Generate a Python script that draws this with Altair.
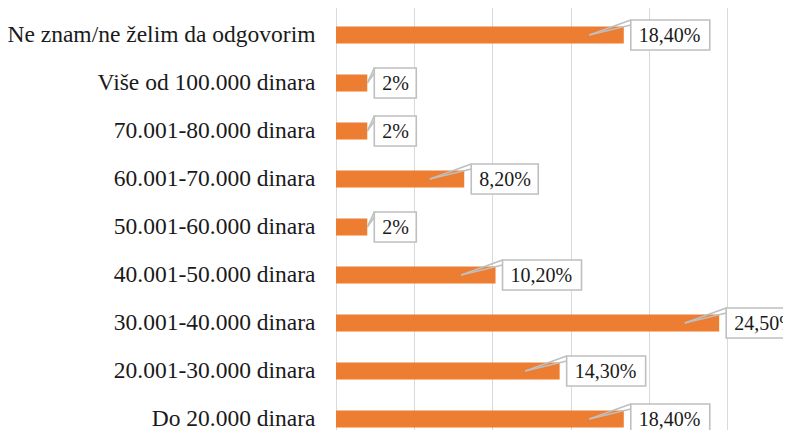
import altair as alt
import pandas as pd

categories = [
    "Ne znam/ne želim da odgovorim",
    "Više od 100.000 dinara",
    "70.001-80.000 dinara",
    "60.001-70.000 dinara",
    "50.001-60.000 dinara",
    "40.001-50.000 dinara",
    "30.001-40.000 dinara",
    "20.001-30.000 dinara",
    "Do 20.000 dinara",
]
values = [18.4, 2, 2, 8.2, 2, 10.2, 24.5, 14.3, 18.4]
labels = ["18,40%", "2%", "2%", "8,20%", "2%", "10,20%", "24,50%", "14,30%", "18,40%"]

df = pd.DataFrame({"cat": categories, "v": values, "label": labels})
df["tip"] = [v - 2.2 if v > 5 else v for v in values]
df["n"] = [len(s) for s in labels]

FONT = "Liberation Serif"
ORANGE = "#ED7D31"
GRAY = "#BFBFBF"

y_enc = alt.Y(
    "cat:N",
    sort=categories,
    scale=alt.Scale(range=[0, 432], paddingInner=0, paddingOuter=0),
    axis=alt.Axis(
        title=None, ticks=False, domain=False, labelPadding=21,
        labelFont=FONT, labelFontSize=23.5, labelColor="#1A1A1A", labelLimit=400,
    ),
)
x_scale = alt.Scale(domain=[0, 25], nice=False)
x_axis = alt.Axis(
    title=None, labels=False, ticks=False, domain=False,
    values=[0, 5, 10, 15, 20, 25], grid=True, gridColor="#D9D9D9", gridWidth=1,
)

base = alt.Chart(df)

bars = base.mark_bar(size=17, color=ORANGE).encode(
    x=alt.X("v:Q", scale=x_scale, axis=x_axis),
    y=y_enc,
)

leaders = []
for off in (-15, -10):
    leaders.append(
        base.mark_rule(color=GRAY, strokeWidth=1.6, x2Offset=7, y2Offset=off).encode(
            x=alt.X("tip:Q", scale=x_scale),
            x2=alt.X2("v:Q"),
            y=alt.Y("cat:N", sort=categories, bandPosition=0.5),
            y2=alt.Y2("cat:N", bandPosition=0.5),
        )
    )

box_layers = []
for n, w in [(2, 42), (5, 67), (6, 79)]:
    box_layers.append(
        base.transform_filter(alt.datum.n == n)
        .mark_bar(size=30, fill="white", stroke=GRAY, strokeWidth=1.6,
                  xOffset=7, x2Offset=7 + w)
        .encode(
            x=alt.X("v:Q", scale=x_scale),
            x2=alt.X2("v:Q"),
            y=alt.Y("cat:N", sort=categories),
        )
    )

text = base.mark_text(
    align="left", baseline="middle", dx=15, dy=1,
    font=FONT, fontSize=20, color="#1A1A1A",
).encode(
    x=alt.X("v:Q", scale=x_scale),
    y=alt.Y("cat:N", sort=categories),
    text="label:N",
)

chart = (
    alt.layer(bars, *leaders, *box_layers, text)
    .properties(
        width=391,
        height=419,
        autosize=alt.AutoSizeParams(type="none"),
        padding={"left": 328, "top": 3, "right": 56, "bottom": 0},
        background="white",
    )
    .configure_view(stroke=None)
)

chart.save("out.html", embed_options={"renderer": "svg", "actions": False})
